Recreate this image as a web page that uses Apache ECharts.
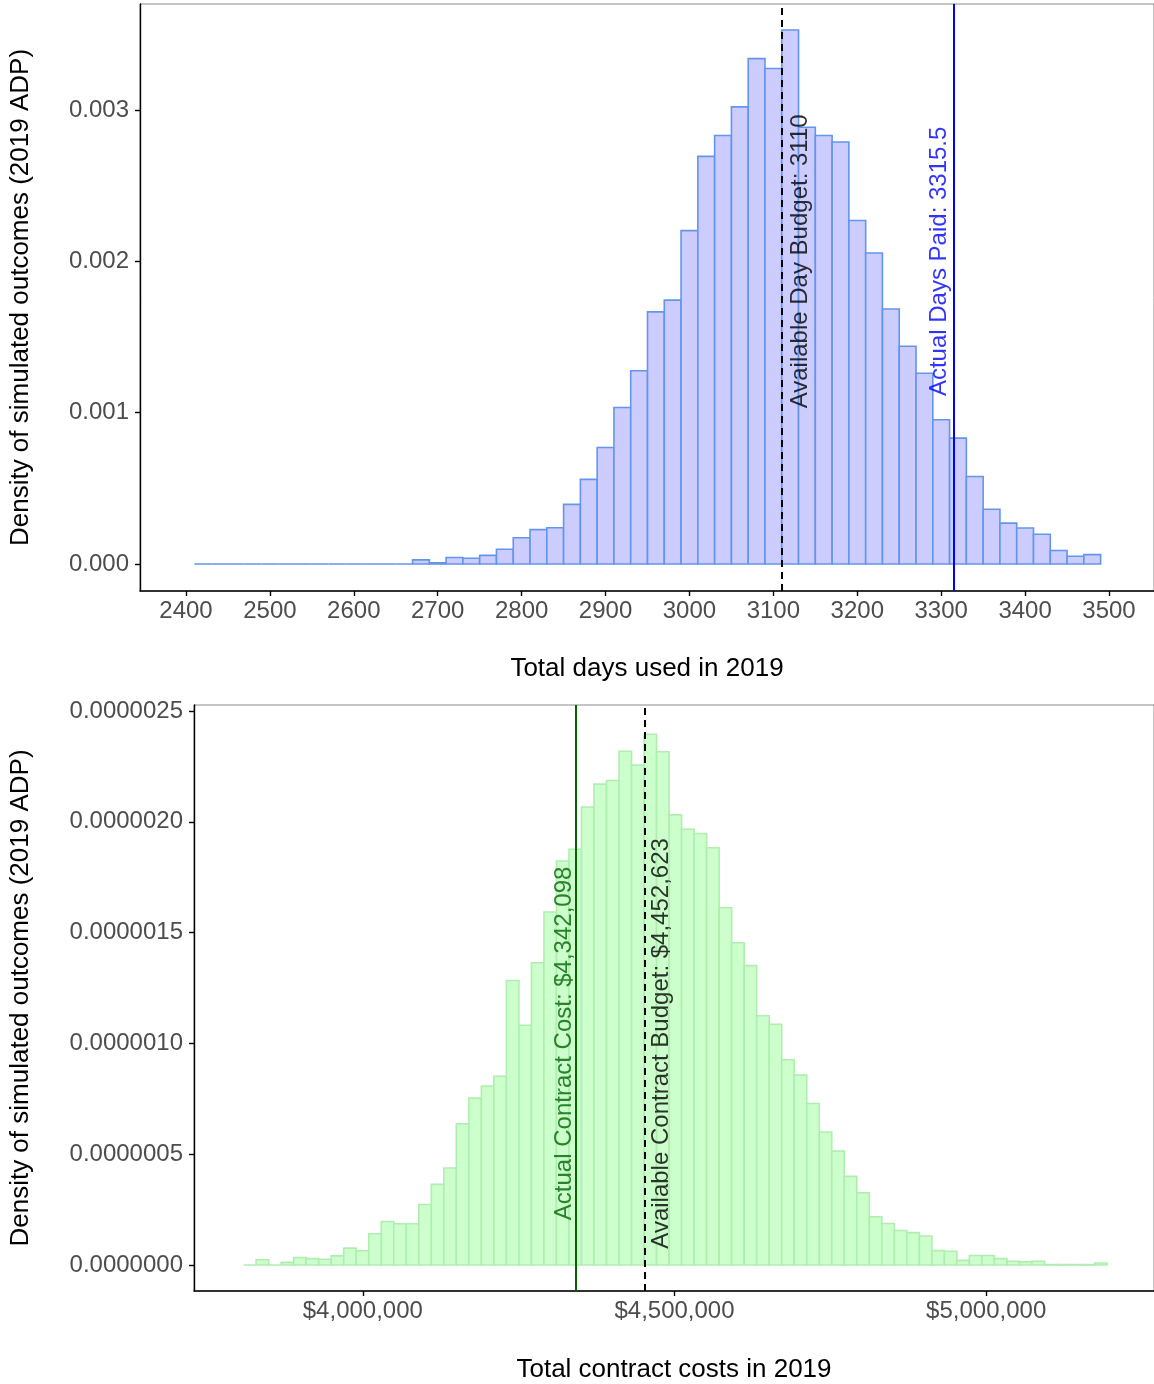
<!DOCTYPE html>
<html>
<head>
<meta charset="utf-8">
<script src="https://cdn.jsdelivr.net/npm/echarts@6/dist/echarts.min.js"></script>
<style>
html,body{margin:0;padding:0;background:#fff;}
#chart{width:1154px;height:1384px;}
</style>
</head>
<body>
<div id="chart"></div>
<script>
// ---------- DATA ----------
// Top histogram: total days used (bin width 20, starting at 2410)
const daysBinStart = 2410;
const daysBinWidth = 20;
const daysDensity = [
  0,0,0,0,0,0,0,0,0,0,0,0,0,
  0.000027,0.000008,0.000043,0.000038,0.000057,0.000097,0.000173,0.000227,0.000240,0.000394,
  0.000559,0.000770,0.001034,0.001277,0.001666,0.001744,0.002203,0.002694,0.002832,0.003021,
  0.003340,0.003275,0.003529,0.002886,0.002832,0.002789,0.002270,0.002055,0.001685,0.001439,
  0.001261,0.000953,0.000832,0.000578,0.000362,0.000270,0.000238,0.000197,0.000089,0.000051,
  0.000062
];
const daysTicks = [2400,2500,2600,2700,2800,2900,3000,3100,3200,3300,3400,3500];
const daysDensityTicks = [0,0.001,0.002,0.003];
const dayBudget = 3110;
const daysPaid = 3315.5;
const daysLabelY = 0.002;

// Bottom histogram: total contract costs
const costBinStart = 3808766;
const costBinWidth = 20075;
const costDensityE7 = [
  0,0.24,0,0.12,0.34,0.29,0.26,0.41,0.76,0.64,
  1.41,1.96,1.86,1.86,2.73,3.64,4.38,6.37,7.53,8.08,
  8.52,12.84,10.82,13.64,15.93,18.23,18.76,20.67,21.70,21.86,
  23.18,22.56,23.95,23.16,20.31,19.66,19.47,18.83,16.12,14.54,
  13.51,11.25,10.86,9.26,8.57,7.29,6.00,5.14,4.00,3.26,
  2.18,1.87,1.56,1.46,1.31,0.65,0.62,0.21,0.43,0.43,
  0.29,0.17,0.14,0.17,0.02,0.02,0.02,0.02,0.09
];
const costTicks = [4000000,4500000,5000000];
const costDensityTicks = [0,0.0000005,0.000001,0.0000015,0.000002,0.0000025];
const costActual = 4342098;
const costBudget = 4452623;
const costLabelY = 0.000001;

// ---------- BUILD ----------
const daysBins = daysDensity.map((d,i)=>[daysBinStart+i*daysBinWidth, daysBinStart+(i+1)*daysBinWidth, d]);
const costBins = costDensityE7.map((d,i)=>[costBinStart+i*costBinWidth, costBinStart+(i+1)*costBinWidth, d*1e-7]);

const FONT = 'Liberation Sans, Arial, sans-serif';
const money = v => '$' + Math.round(v).toLocaleString('en-US');

function histRender(fill, stroke, lw){
  return function(params, api){
    const p0 = api.coord([api.value(0), api.value(2)]);
    const p1 = api.coord([api.value(1), 0]);
    return {
      type:'rect',
      shape:{x:p0[0], y:p0[1], width:p1[0]-p0[0], height:p1[1]-p0[1]},
      style:{fill:fill, stroke:stroke, lineWidth:lw}
    };
  };
}

function xAxisCfg(grid, min, max, ticks, fmt, name, gap){
  return {
    type:'value', gridIndex:grid, min:min, max:max,
    axisLine:{show:true, onZero:false, lineStyle:{color:'#000', width:1.6}},
    axisTick:{show:true, customValues:ticks, length:5, lineStyle:{color:'#000', width:1.4}},
    axisLabel:{customValues:ticks, formatter:fmt, fontSize:24, color:'#4d4d4d', fontFamily:FONT, margin:8},
    splitLine:{show:false},
    name:name, nameLocation:'middle', nameGap:gap,
    nameTextStyle:{fontSize:26, color:'#000', fontFamily:FONT}
  };
}
function yAxisCfg(grid, min, max, ticks, fmt, gap){
  return {
    type:'value', gridIndex:grid, min:min, max:max,
    axisLine:{show:true, onZero:false, lineStyle:{color:'#000', width:1.4}},
    axisTick:{show:true, customValues:ticks, length:5, lineStyle:{color:'#000', width:1.4}},
    axisLabel:{customValues:ticks, formatter:fmt, fontSize:24, color:'#4d4d4d', fontFamily:FONT, margin:11},
    splitLine:{show:false},
    name:'Density of simulated outcomes (2019 ADP)', nameLocation:'middle', nameGap:gap,
    nameTextStyle:{fontSize:26, color:'#000', fontFamily:FONT}
  };
}

function annot(xi, yi, xv, yv, text, color, dx, lineType, lineColor){
  return {
    type:'scatter', xAxisIndex:xi, yAxisIndex:yi, z:5,
    data:[[xv, yv]], symbolSize:1, itemStyle:{color:'rgba(0,0,0,0)'},
    silent:true,
    label:{show:true, formatter:text, rotate:90, position:'inside', offset:[0,dx],
      fontSize:24, color:color, fontFamily:FONT, align:'center', verticalAlign:'middle'},
    markLine:{silent:true, symbol:['none','none'], label:{show:false}, animation:false,
      lineStyle:{type:lineType, color:lineColor, width:2},
      data:[{xAxis:xv}]}
  };
}

const chart = echarts.init(document.getElementById('chart'), null, {renderer:'canvas'});
chart.setOption({
  animation:false,
  backgroundColor:'#fff',
  grid:[
    {left:139, top:4, width:1015, height:587, show:true, borderColor:'#8a8a8a', borderWidth:1},
    {left:193, top:705, width:961, height:586, show:true, borderColor:'#8a8a8a', borderWidth:1}
  ],
  xAxis:[
    xAxisCfg(0, 2345.2, 3553.6, daysTicks, v=>String(v), 'Total days used in 2019', 65),
    xAxisCfg(1, 3729167, 5269231, costTicks, money, 'Total contract costs in 2019', 66)
  ],
  yAxis:[
    yAxisCfg(0, -0.0001785, 0.003701, daysDensityTicks, v=>v.toFixed(3), 106),
    yAxisCfg(1, -0.0000001173, 0.000002527, costDensityTicks, v=>v.toFixed(7), 160)
  ],
  series:[
    {type:'custom', xAxisIndex:0, yAxisIndex:0, z:2, data:daysBins,
     renderItem:histRender('#ccccff', '#6495ed', 1.6), encode:{x:[0,1], y:2}},
    {type:'custom', xAxisIndex:1, yAxisIndex:1, z:2, data:costBins,
     renderItem:histRender('#ccffcc', '#b0eeb0', 1.6), encode:{x:[0,1], y:2}},
    annot(0,0, dayBudget, daysLabelY, 'Available Day Budget: ' + dayBudget, '#000', 19, [7,5], '#000'),
    annot(0,0, daysPaid, daysLabelY, 'Actual Days Paid: ' + daysPaid, '#0000ff', -15, 'solid', '#0000ff'),
    annot(1,1, costActual, costLabelY, 'Actual Contract Cost: ' + money(costActual), '#006400', -12, 'solid', '#006400'),
    annot(1,1, costBudget, costLabelY, 'Available Contract Budget: ' + money(costBudget), '#000', 16, [7,5], '#000')
  ]
});
</script>
</body>
</html>
